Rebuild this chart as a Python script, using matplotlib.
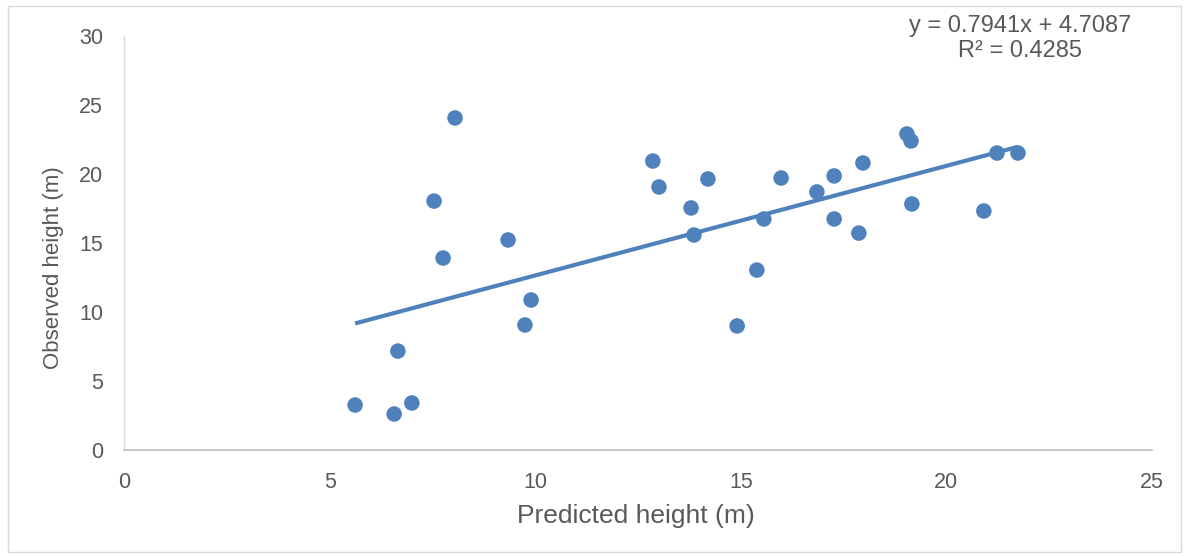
import matplotlib.pyplot as plt
from matplotlib.patches import Rectangle
import numpy as np

# predicted vs observed tree heights (m)
predicted = [5.62, 6.57, 6.66, 7.00, 7.54, 7.76, 8.05, 9.34, 9.75, 9.90,
             12.86, 13.01, 13.79, 13.86, 14.20, 14.91, 15.39, 15.56, 15.98, 16.85,
             17.27, 17.27, 17.87, 17.97, 19.04, 19.14, 19.16, 20.91, 21.23, 21.74]
observed = [3.26, 2.61, 7.17, 3.41, 18.04, 13.91, 24.06, 15.22, 9.06, 10.87,
            20.94, 19.06, 17.54, 15.58, 19.64, 8.99, 13.04, 16.74, 19.71, 18.70,
            19.86, 16.74, 15.72, 20.80, 22.90, 22.39, 17.83, 17.32, 21.52, 21.52]

# linear trendline
slope = 0.7941
intercept = 4.7087
r2 = 0.4285

blue = '#4F81BD'
grey = '#595959'

plt.rcParams['font.family'] = ['Liberation Sans', 'DejaVu Sans']

fig = plt.figure(figsize=(11.89, 5.58), dpi=100)
ax = fig.add_axes([0.1043, 0.1935, 0.8646, 0.742])

xs = np.array([min(predicted), max(predicted)])
ax.plot(xs, slope * xs + intercept, color=blue, lw=3, solid_capstyle='butt', zorder=2)
ax.scatter(predicted, observed, s=125, color=blue, edgecolors='none', zorder=3)

ax.set_xlim(0, 25)
ax.set_ylim(0, 30)
ax.set_xticks(range(0, 26, 5))
ax.set_yticks(range(0, 31, 5))
ax.tick_params(length=0, labelsize=15.5, labelcolor=grey)
ax.tick_params(axis='x', pad=16)
ax.tick_params(axis='y', pad=15)

for side in ['top', 'right']:
    ax.spines[side].set_visible(False)
ax.spines['left'].set_color('#D9D9D9')
ax.spines['bottom'].set_color('#BFBFBF')
ax.spines['left'].set_linewidth(1)
ax.spines['bottom'].set_linewidth(1.2)

# axis titles
fig.text(0.535, 0.0753, 'Predicted height (m)', ha='center', va='center',
         fontsize=19, color=grey)
fig.text(0.0446, 0.52, 'Observed height (m)', ha='center', va='center',
         rotation=90, fontsize=16, color=grey)

fig.text(0.858, 0.931, f'y = {slope:.4f}x + {intercept:.4f}\nR² = {r2:.4f}',
         ha='center', va='center', fontsize=17, color=grey, linespacing=1.23)

# chart area border
fig.patches.append(Rectangle((0.007, 0.011), 0.986, 0.978, transform=fig.transFigure,
                             fill=False, edgecolor='#D9D9D9', lw=1))

fig.savefig('out.png', dpi=100)
